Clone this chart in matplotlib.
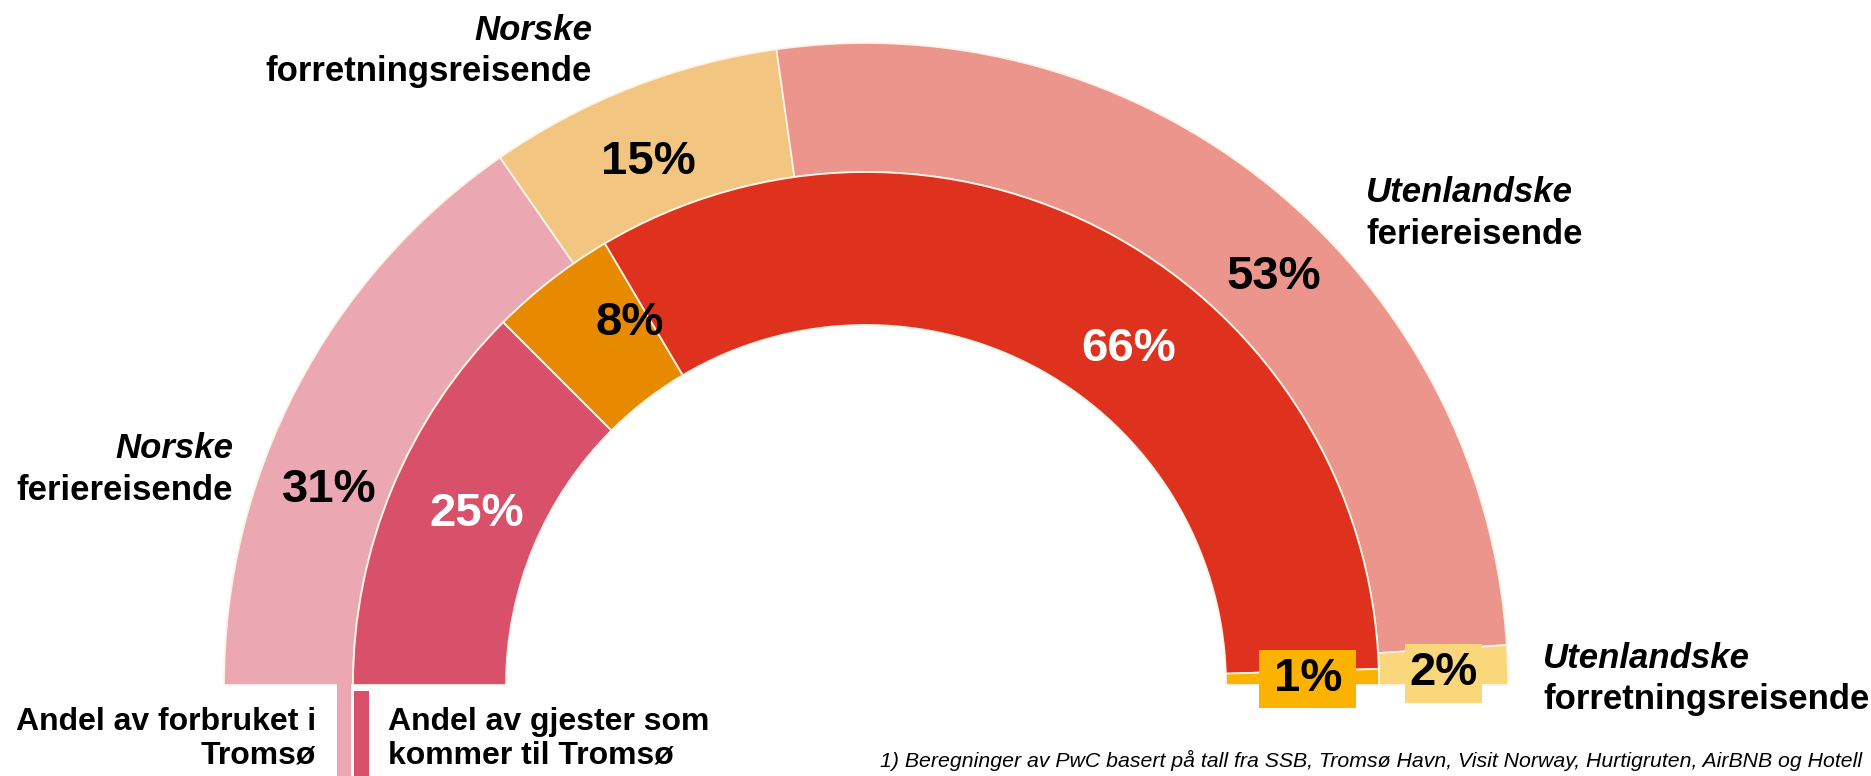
import matplotlib.pyplot as plt
from matplotlib.patches import Rectangle

plt.rcParams['font.family'] = ['Liberation Sans', 'DejaVu Sans']

# Andel av forbruket (ytre ring) og andel av gjester (indre ring)
segmenter = ['Norske feriereisende', 'Norske forretningsreisende',
             'Utenlandske feriereisende', 'Utenlandske forretningsreisende']
forbruk = [31, 15, 53, 2]
gjester = [25, 8, 66, 1]

farger_forbruk = ['#EBA8B2', '#F2C580', '#EC958C', '#FAD77A']
farger_gjester = ['#D9506A', '#E88A00', '#DE321E', '#FBB300']

# geometri i piksler (1 dataenhet = 1 piksel)
W, H = 1871, 776
cx, cy = 866, 91
r_ytre, r_midt, r_hull = 642, 513, 360

fig = plt.figure(figsize=(W / 100, H / 100), dpi=100)
ax = fig.add_axes([0, 0, 1, 1])


def halvring(verdier, farger, radius, bredde):
    # skjult nedre halvdel slik at ringen blir en halvsirkel
    vals = verdier + [sum(verdier)]
    wedges, _ = ax.pie(vals, colors=farger + ['white'], radius=radius,
                       center=(cx, cy), startangle=180, counterclock=False,
                       wedgeprops=dict(width=bredde, edgecolor='#FBF3E6',
                                       linewidth=1.3))
    wedges[-1].set_visible(False)
    return wedges


halvring(forbruk, farger_forbruk, r_ytre, r_ytre - r_midt)
halvring(gjester, farger_gjester, r_midt, r_midt - r_hull)

# små stolper som peker ned mot forklaringstekstene
ax.add_patch(Rectangle((cx - r_midt - 16, 0), 14, cy + 2,
                       facecolor=farger_forbruk[0], edgecolor='none'))
ax.add_patch(Rectangle((cx - r_midt + 1, 0), 15, cy - 6,
                       facecolor=farger_gjester[0], edgecolor='none'))

ax.set_xlim(0, W)
ax.set_ylim(0, H)
ax.set_aspect('equal')
ax.axis('off')

# prosentetiketter
pos_forbruk = [(329, 286), (648, 614), (1274, 499), (1444, 103)]
pos_gjester = [(477, 262), (630, 453), (1129, 427), (1308, 97)]
tekst_forbruk = ['black', 'black', 'black', 'black']
tekst_gjester = ['white', 'black', 'white', 'black']
boks_str = {'forbruk': (77, 59), 'gjester': (97, 58)}


def etikett(x, y, v, farge, boks=None, boksfarge=None):
    if boks is not None:
        bw, bh = boks
        ax.add_patch(Rectangle((x - bw / 2, y - bh / 2), bw, bh,
                               facecolor=boksfarge, edgecolor='none',
                               zorder=3))
    ax.text(x, y, f'{v}%', ha='center', va='center', fontsize=34,
            fontweight='bold', color=farge, zorder=4)


for i, v in enumerate(forbruk):
    siste = i == len(forbruk) - 1
    etikett(*pos_forbruk[i], v, tekst_forbruk[i],
            boks_str['forbruk'] if siste else None, farger_forbruk[i])

for i, v in enumerate(gjester):
    siste = i == len(gjester) - 1
    etikett(*pos_gjester[i], v, tekst_gjester[i],
            boks_str['gjester'] if siste else None, farger_gjester[i])

# segmentnavn: første ord i kursiv
navn_pos = [(233, 328, 'right'), (592, 746, 'right'),
            (1366, 583, 'left'), (1543, 118, 'left')]
for navn, (x, y, ha) in zip(segmenter, navn_pos):
    forst, resten = navn.split(' ', 1)
    ax.text(x, y, forst, ha=ha, va='center', fontsize=25,
            fontweight='bold', style='italic')
    ax.text(x, y - 42, resten, ha=ha, va='center', fontsize=25,
            fontweight='bold')

ax.text(316, 37, 'Andel av forbruket i\nTromsø', ha='right', va='center',
        fontsize=23, fontweight='bold', linespacing=1.15)
ax.text(388, 37, 'Andel av gjester som\nkommer til Tromsø', ha='left',
        va='center', fontsize=23, fontweight='bold', linespacing=1.15)

ax.text(1862, 16, '1) Beregninger av PwC basert på tall fra SSB, Tromsø Havn, '
        'Visit Norway, Hurtigruten, AirBNB og Hotell', ha='right',
        va='center', fontsize=15.3, style='italic')

fig.savefig('out.png', dpi=100)
